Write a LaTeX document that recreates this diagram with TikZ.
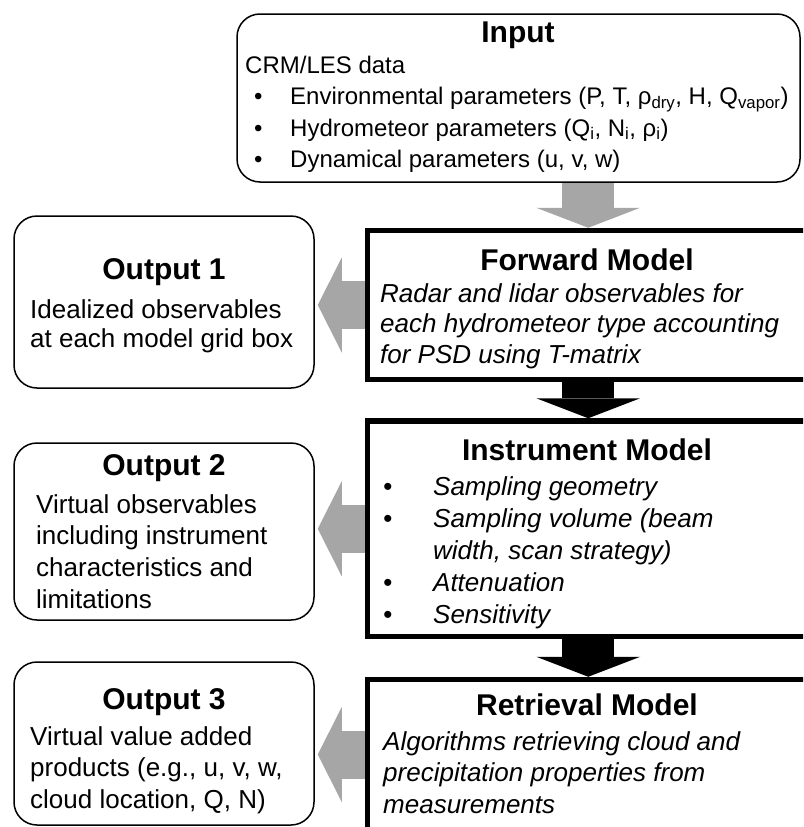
\documentclass[tikz,border=0pt]{standalone}
\usepackage{fontspec}
\setmainfont{Liberation Sans}
\usepackage{tikz}
\usetikzlibrary{arrows.meta, calc}
\definecolor{arrowgray}{RGB}{166,166,166}
\tikzstyle{outbox} = [draw, rectangle, rounded corners=23pt, line width=1.5pt, inner sep=0pt, minimum width=300pt]
\tikzstyle{modelbox} = [draw, rectangle, line width=5.5pt, inner sep=0pt, minimum width=441.5pt]
\tikzstyle{title} = [font=\fontsize{30}{36}\selectfont\bfseries, inner sep=0pt]
\tikzstyle{body} = [font=\fontsize{26}{31.5}\selectfont, align=left, inner sep=0pt, anchor=north west]
\tikzstyle{downwire} = [line width=52pt, -{Triangle[length=20pt, width=104pt, line width=0pt]}]
\tikzstyle{leftwire} = [draw=arrowgray, line width=48pt, shorten >=3pt, -{Triangle[length=24pt, width=95pt, line width=0pt]}]

\begin{document}
\begin{tikzpicture}[x=1pt, y=-1pt]
    \useasboundingbox (0,0) rectangle (803,827);
    \clip (0,0) rectangle (803,827);
    % boxes
    \node[outbox, minimum width=563pt, minimum height=168pt] (input) at (518.5,98) {};
    \node[modelbox, minimum height=149pt] (fwd) at (588.25,305) {};
    \node[modelbox, minimum height=215.5pt] (instr) at (588.25,528.75) {};
    \node[modelbox, minimum height=150pt] (retr) at (588.25,754.5) {};
    \node[outbox, minimum height=172pt] (out1) at (164,302) {};
    \node[outbox, minimum height=177pt] (out2) at (164,531.5) {};
    \node[outbox, minimum height=163pt] (out3) at (164,743.5) {};
    % texts
    \node[title] (inputtitle) at (518,35) {Input};
    \node[body, font=\fontsize{24}{31.5}\selectfont] (inputtext) at (245,55.5) {CRM/LES data\\
      \makebox[45pt][l]{\hspace{9pt}\textbullet}Environmental parameters (P, T, ρ\textsubscript{dry}, H, Q\textsubscript{vapor})\\
      \makebox[45pt][l]{\hspace{9pt}\textbullet}Hydrometeor parameters (Q\textsubscript{i}, N\textsubscript{i}, ρ\textsubscript{i})\\
      \makebox[45pt][l]{\hspace{9pt}\textbullet}Dynamical parameters (u, v, w)};
    \node[title] (fwdtitle) at (587,260) {Forward Model};
    \node[body, font=\fontsize{26}{30.5}\selectfont\itshape] (fwdtext) at (380,283) {Radar and lidar observables for\\
      each hydrometeor type accounting\\ for PSD using T-matrix};
    \node[title] (instrtitle) at (587,450) {Instrument Model};
    \node[body, font=\fontsize{26}{32}\selectfont\itshape] (instrtext) at (383,476) {\makebox[50pt][l]{\textbullet}Sampling geometry\\
      \makebox[50pt][l]{\textbullet}Sampling volume (beam\\
      \makebox[50pt]{}width, scan strategy)\\
      \makebox[50pt][l]{\textbullet}Attenuation\\
      \makebox[50pt][l]{\textbullet}Sensitivity};
    \node[title] (retrtitle) at (587,705) {Retrieval Model};
    \node[body, font=\fontsize{26}{31.5}\selectfont\itshape] (retrtext) at (383,731) {Algorithms retrieving cloud and\\
      precipitation properties from\\ measurements};
    \node[title] (out1title) at (164,272) {Output 1};
    \node[body, font=\fontsize{26}{29}\selectfont] (out1text) at (30,299) {Idealized observables\\ at each model grid box};
    \node[title] (out2title) at (164,468) {Output 2};
    \node[body, font=\fontsize{26}{31.7}\selectfont] (out2text) at (36,494) {Virtual observables\\ including instrument\\ characteristics and\\ limitations};
    \node[title] (out3title) at (164,702) {Output 3};
    \node[body] (out3text) at (30,726) {Virtual value added\\ products (e.g., u, v, w,\\ cloud location, Q, N)};
    % arrows
    \draw[downwire, draw=arrowgray] (fwd.north |- input.south) -- (fwd.north);
    \draw[downwire, draw=black] (fwd.south) -- (instr.north);
    \draw[downwire, draw=black] (instr.south) -- (retr.north);
    \draw[leftwire] (fwd.west) -- (fwd.west -| out1.east);
    \draw[leftwire] (instr.west) -- (instr.west -| out2.east);
    \draw[leftwire] (retr.west) -- (retr.west -| out3.east);
\end{tikzpicture}
\end{document}
